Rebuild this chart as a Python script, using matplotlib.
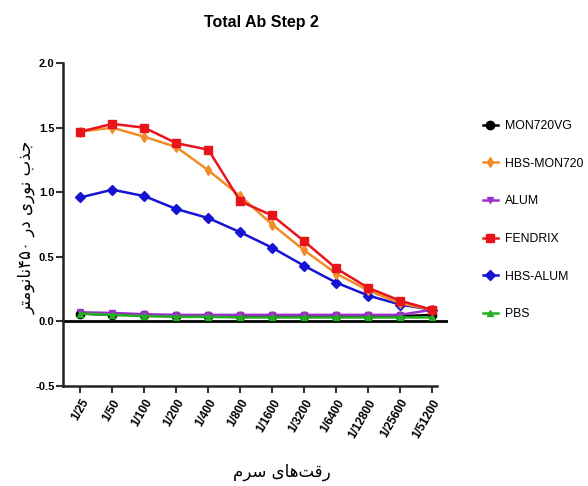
import numpy as np
import matplotlib
matplotlib.use('Agg')
import matplotlib.pyplot as plt
from matplotlib.lines import Line2D

dilutions = ['1/25', '1/50', '1/100', '1/200', '1/400', '1/800', '1/1600',
             '1/3200', '1/6400', '1/12800', '1/25600', '1/51200']

mon720vg = [0.06, 0.05, 0.05, 0.04, 0.04, 0.04, 0.04, 0.04, 0.04, 0.04, 0.04, 0.05]
hbs_mon720 = [1.47, 1.50, 1.43, 1.35, 1.17, 0.97, 0.75, 0.55, 0.37, 0.24, 0.14, 0.09]
alum = [0.07, 0.065, 0.055, 0.05, 0.05, 0.05, 0.05, 0.05, 0.05, 0.05, 0.05, 0.09]
fendrix = [1.47, 1.53, 1.50, 1.38, 1.33, 0.93, 0.82, 0.62, 0.41, 0.26, 0.16, 0.09]
hbs_alum = [0.96, 1.02, 0.97, 0.87, 0.80, 0.69, 0.57, 0.43, 0.30, 0.20, 0.13, 0.09]
pbs = [0.06, 0.05, 0.04, 0.035, 0.035, 0.03, 0.03, 0.03, 0.03, 0.03, 0.03, 0.03]

# persian labels, pre-shaped (presentation forms, visual order)
ylabel_fa = "ﺮﺘﻣﻮﻧﺎﻧ" + "۴۵۰" + " " + "ﺭﺩ" + " " + "ﯼﺭﻮﻧ" + " " + "ﺏﺬﺟ"
xlabel_fa = "ﻡﺮﺳ" + " " + "ﯼﺎﻫﺖﻗﺭ"

font = ['Liberation Sans', 'DejaVu Sans']

series = [
    ('MON720VG', mon720vg, 'black', 'o'),
    ('HBS-MON720', hbs_mon720, '#f28c28', 'd'),
    ('ALUM', alum, '#9b30c8', 'v'),
    ('FENDRIX', fendrix, '#e8141c', 's'),
    ('HBS-ALUM', hbs_alum, '#1414d2', 'D'),
    ('PBS', pbs, '#22b022', '^'),
]

fig = plt.figure(figsize=(5.88, 4.86), dpi=100)
ax = fig.add_axes([0.107, 0.206, 0.655, 0.664])

x = np.arange(len(dilutions))
ax.axhline(0, color='black', lw=2, zorder=1)

draw_order = ['MON720VG', 'ALUM', 'PBS', 'HBS-ALUM', 'HBS-MON720', 'FENDRIX']
by_name = {s[0]: s for s in series}
for name in draw_order:
    _, vals, col, mk = by_name[name]
    ms = 6 if mk in ('s', 'o') else 5
    ax.plot(x, vals, color=col, marker=mk, ms=ms, lw=1.8, zorder=3)

ax.set_xlim(-0.55, 11.5)
ax.set_ylim(-0.5, 2.0)
ax.set_yticks([-0.5, 0.0, 0.5, 1.0, 1.5, 2.0])
ax.set_yticklabels(['-0.5', '0.0', '0.5', '1.0', '1.5', '2.0'],
                   family=font, fontweight='bold', fontsize=8)
ax.set_xticks(x)
ax.set_xticklabels(dilutions, rotation=60, ha='right', rotation_mode='anchor',
                   family=font, fontweight='bold', fontsize=8.5)
ax.tick_params(axis='both', direction='out', length=5, width=1.5, color='#333333')
ax.tick_params(axis='x', pad=3)
ax.tick_params(axis='y', pad=1)

for s in ['top', 'right']:
    ax.spines[s].set_visible(False)
for s in ['left', 'bottom']:
    ax.spines[s].set_linewidth(1.8)
    ax.spines[s].set_color('#222222')
ax.spines['bottom'].set_bounds(-0.55, 11.15)

ax.set_ylabel(ylabel_fa, family='DejaVu Sans', fontsize=12)
ax.yaxis.set_label_coords(-0.07, 0.49)
ax.set_xlabel(xlabel_fa, family='DejaVu Sans', fontsize=12)
ax.xaxis.set_label_coords(0.569, -0.24)

fig.text(0.445, 0.953, 'Total Ab Step 2', ha='center', va='center',
         family=font, fontweight='bold', fontsize=11.5)

handles = [Line2D([0], [0], color=col, marker=mk, ms=6 if mk in ('s', 'o') else 5, lw=1.8)
           for _, _, col, mk in series]
labels = [s[0] for s in series]
leg = fig.legend(handles, labels, loc='upper left', bbox_to_anchor=(0.803, 0.776),
                 frameon=False, handlelength=1.2, handletextpad=0.55,
                 labelspacing=2.1, prop={'family': font, 'size': 8.8})

fig.savefig('out.png', dpi=100)
